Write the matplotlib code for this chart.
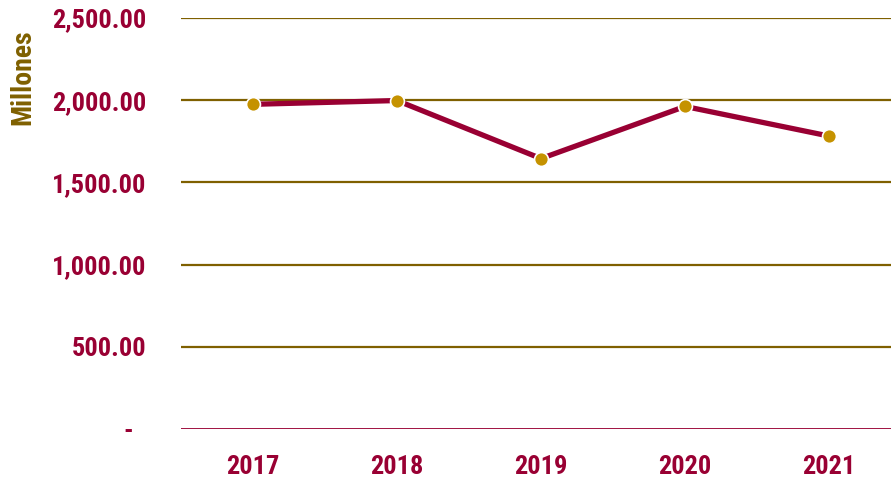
import numpy as np
import matplotlib.pyplot as plt
from matplotlib import font_manager
from matplotlib.ticker import FuncFormatter

years = ['2017', '2018', '2019', '2020', '2021']
valores = [1975, 1998, 1645, 1962, 1782]
y_ticks = [0, 500, 1000, 1500, 2000, 2500]

names = {f.name for f in font_manager.fontManager.ttflist}
fam = 'Roboto Condensed' if 'Roboto Condensed' in names else 'Liberation Sans'
plt.rcParams['font.family'] = [fam, 'DejaVu Sans']

vino = '#990033'
oro = '#7F6000'
punto = '#C59200'

fig = plt.figure(figsize=(8.91, 4.83), dpi=100)
ax = fig.add_axes([181/891, 54/483, 710/891, 411/483])

x = np.arange(len(years))
ax.plot(x, valores, color=vino, lw=3.8, zorder=3, solid_capstyle='butt')
ax.plot(x, valores, 'o', ms=10, mfc=punto, mec='white', mew=1.2, zorder=4)

ax.set_ylim(0, 2500)
ax.set_xlim(-0.5, 4.5 - 10/144)
ax.set_yticks(y_ticks)
for v in y_ticks[1:]:
    ax.axhline(v, color=oro, lw=1.6, zorder=1)
ax.axhline(0, color=vino, lw=1.3, zorder=2)

def fmt(v, pos):
    if v == 0:
        return '-  '
    return f'{v:,.2f}'
ax.yaxis.set_major_formatter(FuncFormatter(fmt))
ax.set_xticks(x)
ax.set_xticklabels(years)

for s in ax.spines.values():
    s.set_visible(False)
ax.tick_params(length=0)
ax.tick_params(axis='y', pad=25, labelsize=19, labelcolor=vino)
ax.tick_params(axis='x', pad=19, labelsize=19, labelcolor=vino)
for t in ax.get_xticklabels() + ax.get_yticklabels():
    t.set_fontweight('bold')

fig.text(23/891, 1 - 77/483, 'Millones', rotation=90, ha='center', va='center',
         fontsize=20, fontweight='bold', color=oro)

fig.savefig('out.png', dpi=100)
